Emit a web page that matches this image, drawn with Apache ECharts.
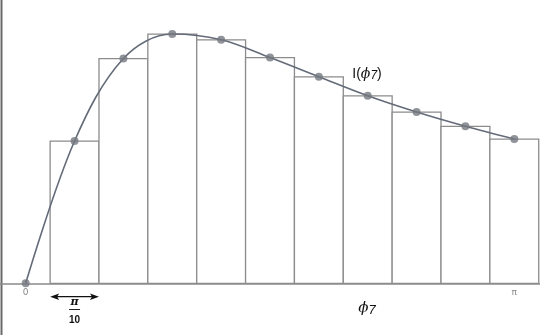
<!DOCTYPE html>
<html>
<head>
<meta charset="utf-8">
<script src="https://cdn.jsdelivr.net/npm/echarts@6/dist/echarts.min.js"></script>
<style>html,body{margin:0;padding:0;background:#fff}#c{width:540px;height:335px}</style>
</head>
<body>
<div id="c"></div>
<script>
// Curve samples and marked points at multiples of pi/10
const pointK = [0, 1, 2, 3, 4, 5, 6, 7, 8, 9, 10];
const pointI = [0, 0.569, 0.899, 0.997, 0.974, 0.903, 0.826, 0.750, 0.685, 0.628, 0.577];
// Bars (width pi/10) centred on k*pi/10
const barK = [1, 2, 3, 4, 5, 6, 7, 8, 9, 10];
const barI = [0.569, 0.899, 0.997, 0.974, 0.903, 0.826, 0.750, 0.685, 0.628, 0.577];
const tickValues = [0, Math.PI];
const tickLabels = ['0', 'π'];

const step = Math.PI / 10;
const pad = 0.16524;
const chart = echarts.init(document.getElementById('c'));
chart.setOption({
  animation: false,
  grid: { left: 0, right: 0, top: 0, bottom: 51.7 },
  xAxis: {
    type: 'value', min: -pad, max: Math.PI + pad,
    splitLine: { show: false },
    axisLine: { show: true, lineStyle: { color: '#8a8a8a', width: 1.5 } },
    axisTick: { show: true, inside: true, length: 3, customValues: tickValues, lineStyle: { color: '#777' } },
    axisLabel: {
      customValues: tickValues, color: '#888', fontSize: 9, margin: 5,
      fontFamily: 'DejaVu Sans',
      formatter: function (v) { return Math.abs(v) < 1e-6 ? tickLabels[0] : tickLabels[1]; }
    }
  },
  yAxis: { type: 'value', min: 0, max: 1.1332, show: false },
  series: [
    {
      type: 'custom', z: 1,
      data: barK.map((k, i) => [k * step, barI[i]]),
      renderItem: function (params, api) {
        const x = api.value(0), h = api.value(1);
        const p0 = api.coord([x - step / 2, h]);
        const p1 = api.coord([x + step / 2, 0]);
        return { type: 'rect', shape: { x: p0[0], y: p0[1], width: p1[0] - p0[0], height: p1[1] - p0[1] },
                 style: { fill: '#ffffff', stroke: '#8c8c8c', lineWidth: 1.3 } };
      }
    },
    {
      type: 'line', z: 3, smooth: 0.35, showSymbol: false,
      data: pointK.map((k, i) => [k * step, pointI[i]]),
      lineStyle: { color: '#646b78', width: 1.6 }
    },
    {
      type: 'scatter', z: 4, symbol: 'circle', symbolSize: 8,
      data: pointK.map((k, i) => [k * step, pointI[i]]),
      itemStyle: { color: '#74787f' }
    }
  ]
});

// Annotations
const a0 = chart.convertToPixel({ gridIndex: 0 }, [0.5 * step, 0]);
const a1 = chart.convertToPixel({ gridIndex: 0 }, [1.5 * step, 0]);
const ay = a0[1] + 13.4;
const cx = (a0[0] + a1[0]) / 2;
chart.setOption({
  graphic: [
    { type: 'line', shape: { x1: 1.5, y1: 0, x2: 1.5, y2: 335 }, style: { stroke: '#6a6a6a', lineWidth: 2 } },
    { type: 'line', shape: { x1: a0[0] + 6, y1: ay, x2: a1[0] - 6, y2: ay }, style: { stroke: '#111', lineWidth: 1.2 } },
    { type: 'polygon', shape: { points: [[a0[0], ay], [a0[0] + 9, ay - 3.2], [a0[0] + 7, ay], [a0[0] + 9, ay + 3.2]] }, style: { fill: '#111' } },
    { type: 'polygon', shape: { points: [[a1[0], ay], [a1[0] - 9, ay - 3.2], [a1[0] - 7, ay], [a1[0] - 9, ay + 3.2]] }, style: { fill: '#111' } },
    { type: 'text', x: cx, y: 302, style: { text: 'π', fill: '#111', font: 'italic bold 11px "DejaVu Serif"', align: 'center', verticalAlign: 'middle' } },
    { type: 'line', shape: { x1: cx - 5.5, y1: 309.5, x2: cx + 5.5, y2: 309.5 }, style: { stroke: '#222', lineWidth: 1 } },
    { type: 'text', x: cx, y: 320, style: { text: '10', fill: '#111', font: 'bold 10px "Liberation Sans"', align: 'center', verticalAlign: 'middle' } },
    { type: 'text', x: 367, y: 308, style: {
        text: '{a|ϕ}{b|7}', align: 'center', verticalAlign: 'middle',
        rich: { a: { font: 'italic 15px "DejaVu Serif"', fill: '#111' }, b: { font: 'italic 13px "Liberation Sans"', fill: '#111', padding: [4, 0, 0, 0] } } } },
    { type: 'text', x: 367, y: 74, style: {
        text: '{r|I(}{a|ϕ}{b|7}{r|)}', align: 'center', verticalAlign: 'middle',
        rich: { r: { font: '14px "Liberation Sans"', fill: '#111' }, a: { font: 'italic 14px "DejaVu Serif"', fill: '#111' }, b: { font: 'italic 12px "Liberation Sans"', fill: '#111', padding: [3, 0, 0, 0] } } } }
  ]
});
</script>
</body>
</html>
